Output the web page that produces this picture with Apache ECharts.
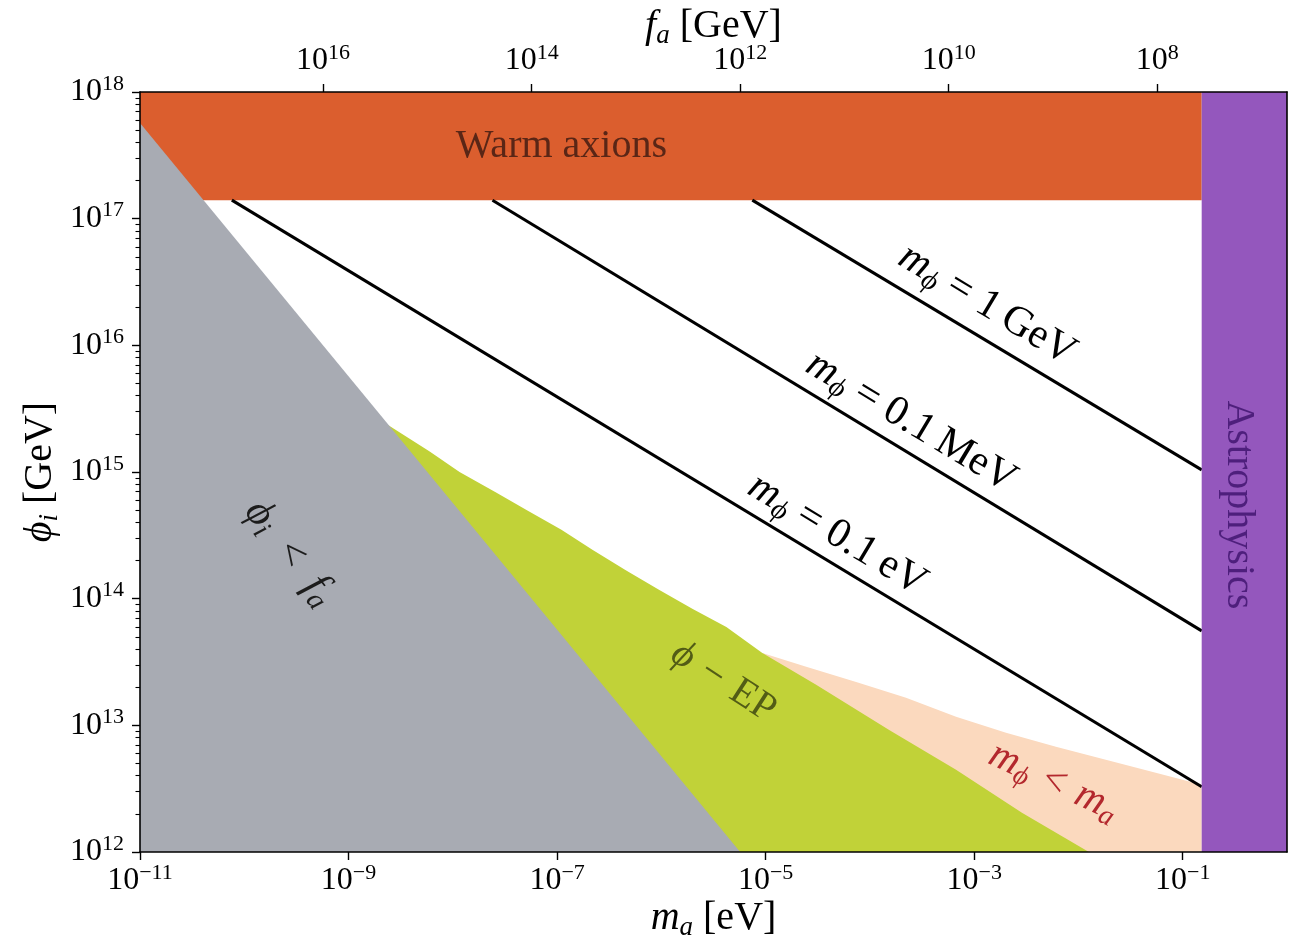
<!DOCTYPE html>
<html>
<head>
<meta charset="utf-8">
<script src="https://cdn.jsdelivr.net/npm/echarts@6/dist/echarts.min.js"></script>
<style>html,body{margin:0;padding:0;background:#fff}#c{width:1299px;height:948px}</style>
</head>
<body>
<div id="c"></div>
<script>
// ---------------- data ----------------
const FA_CONST = 5.7e6;                 // m_a * f_a  [eV * GeV]
const xRange = [1e-11, 1];              // m_a [eV]
const yRange = [1e12, 1e18];            // phi_i [GeV]
const xTicks = [1e-11, 1e-9, 1e-7, 1e-5, 1e-3, 1e-1];
const yTicks = [1e12, 1e13, 1e14, 1e15, 1e16, 1e17, 1e18];
const faTicks = [1e16, 1e14, 1e12, 1e10, 1e8];
const yMinorTicks = [];
for (let d = 12; d < 18; d++) for (let k = 2; k <= 9; k++) yMinorTicks.push(k * Math.pow(10, d));

// Warm axions band
const warmMa = [1e-11, 0.152];
const warmPhi = [1.4e17, 1e18];
// Astrophysics band
const astroMa = [0.152, 1];
const astroPhi = [1e12, 1e18];
// phi_i < f_a region
const grayMa = [1e-11, 1e-11, 5.7e-6];
const grayPhi = [5.7e17, 1e12, 1e12];
// phi - EP region (upper edge, then bottom corners)
const epMa  = [2.37e-9, 6.0e-9, 1.16e-8, 2.6e-8, 5.09e-8, 1.1e-7, 2.18e-7, 4.6e-7, 9.57e-7, 2.0e-6, 4.2e-6, 9.3e-6, 3.05e-5, 1.53e-4, 6.7e-4, 2.87e-3, 1.26e-2, 2.37e-9];
const epPhi = [2.36e15, 1.45e15, 1.0e15, 6.9e14, 5.02e14, 3.5e14, 2.43e14, 1.67e14, 1.17e14, 8.3e13, 5.98e13, 3.73e13, 2.09e13, 9.2e12, 4.46e12, 2.04e12, 1.0e12, 1.0e12];
// m_phi < m_a region (upper edge, then bottom corners)
const peachMa  = [9.3e-6, 2.45e-5, 7.38e-5, 2.22e-4, 6.7e-4, 2.02e-3, 6.08e-3, 1.83e-2, 5.51e-2, 0.152, 0.152, 9.3e-6];
const peachPhi = [3.73e13, 2.9e13, 2.2e13, 1.65e13, 1.17e13, 8.73e12, 6.76e12, 5.35e12, 4.22e12, 3.39e12, 1e12, 1e12];
// m_phi contour lines
const lineNames = ['1\u2009GeV', '0.1\u2009MeV', '0.1\u2009eV'];
const lineMa  = [[7.45e-6, 0.152], [2.4e-8, 0.152], [7.6e-11, 0.152]];
const linePhi = [[1.4e17, 1.04e15], [1.4e17, 5.57e13], [1.4e17, 3.27e12]];

// ---------------- styling ----------------
const FONT = "'Liberation Serif','DejaVu Serif',serif";
const C_ORANGE = '#db5e2e', C_PURPLE = '#9457bd', C_GRAY = '#a8abb3', C_GREEN = '#c1d238', C_PEACH = '#fbd9be';

// keep ticks that sit exactly on the axis end inside the (floating point) extent
function inside(vals, range) {
  return vals.map(v => v >= range[1] ? v * (1 - 1e-9) : (v <= range[0] ? v * (1 + 1e-9) : v));
}

function expLabel(v) {
  const e = Math.round(Math.log10(v));
  return '{b|10}{s|' + String(e).replace('-', '\u2212') + '}';
}
const tickRich = {
  b: {fontFamily: FONT, fontSize: 32, lineHeight: 38, verticalAlign: 'middle', color: '#000'},
  s: {fontFamily: FONT, fontSize: 22, lineHeight: 22, verticalAlign: 'top', color: '#000'}
};
const nameRich = {
  i: {fontFamily: FONT, fontStyle: 'italic', fontSize: 40, lineHeight: 46, verticalAlign: 'middle', color: '#000'},
  s: {fontFamily: FONT, fontStyle: 'italic', fontSize: 27, lineHeight: 20, verticalAlign: 'bottom', color: '#000'},
  n: {fontFamily: FONT, fontSize: 40, lineHeight: 46, verticalAlign: 'middle', color: '#000'}
};

function polySeries(ma, phi, color, z) {
  return {
    type: 'custom', coordinateSystem: 'cartesian2d', xAxisIndex: 0, yAxisIndex: 0,
    z: z, silent: true, animation: false,
    data: ma.map((m, i) => [m, phi[i]]),
    encode: {x: 0, y: 1},
    renderItem: function (params, api) {
      if (params.dataIndex !== 0) return null;
      const pts = ma.map((m, i) => api.coord([m, phi[i]]));
      return {type: 'polygon', shape: {points: pts}, style: {fill: color}};
    }
  };
}
function rectSeries(ma, phi, color, z) {
  return polySeries([ma[0], ma[1], ma[1], ma[0]], [phi[0], phi[0], phi[1], phi[1]], color, z);
}

// annotation texts (placed in data coordinates)
function mRich(fill, size) {
  return {
    i: {fontFamily: FONT, fontStyle: 'italic', fontSize: size, lineHeight: size + 6, verticalAlign: 'middle', fill: fill},
    s: {fontFamily: FONT, fontStyle: 'italic', fontSize: Math.round(size * 0.68), lineHeight: 20, verticalAlign: 'bottom', fill: fill},
    n: {fontFamily: FONT, fontSize: size, lineHeight: size + 6, verticalAlign: 'middle', fill: fill}
  };
}
const SP = '\u2004';
const annotations = [
  {pos: [1.10e-7, 3.68e17], rot: 0, text: '{n|Warm axions}', fill: '#5a2616', size: 40},
  {pos: [0.344, 5.5e14], rot: -90, text: '{n|Astrophysics}', fill: '#4e1f7c', size: 40},
  {pos: [1.33e-3, 2.08e16], rot: -31, text: '{i|m}{s|\u03d5}{n| = 1\u2009GeV}', fill: '#000', size: 42},
  {pos: [2.48e-4, 2.48e15], rot: -31, text: '{i|m}{s|\u03d5}{n| = 0.1\u2009MeV}', fill: '#000', size: 42},
  {pos: [4.85e-5, 3.19e14], rot: -31, text: '{i|m}{s|\u03d5}{n| = 0.1\u2009eV}', fill: '#000', size: 42},
  {pos: [2.74e-10, 2.3e14], rot: -52, text: '{i|\u03d5}{s|i}{n|\u2002<\u2002}{i|f}{s|a}', fill: '#1c1c1c', size: 42},
  {pos: [3.93e-6, 2.2e13], rot: -33, text: '{i|\u03d5}{n|' + SP + '\u2212' + SP + 'EP}', fill: '#525c16', size: 40},
  {pos: [5.8e-3, 3.58e12], rot: -25, text: '{i|m}{s|\u03d5}{n|' + SP + '<' + SP + '}{i|m}{s|a}', fill: '#b3282d', size: 41}
];

const series = [
  rectSeries(warmMa, warmPhi, C_ORANGE, 2),
  polySeries(peachMa, peachPhi, C_PEACH, 3),
  polySeries(epMa, epPhi, C_GREEN, 4),
  polySeries(grayMa, grayPhi, C_GRAY, 5)
];
lineNames.forEach((nm, k) => {
  series.push({
    type: 'line', name: nm, xAxisIndex: 0, yAxisIndex: 0, z: 6, silent: true, animation: false,
    showSymbol: false, symbol: 'none',
    data: lineMa[k].map((m, i) => [m, linePhi[k][i]]),
    lineStyle: {color: '#000', width: 3}
  });
});
series.push(rectSeries(astroMa, astroPhi, C_PURPLE, 7));
series.push({
  type: 'custom', coordinateSystem: 'cartesian2d', xAxisIndex: 0, yAxisIndex: 0, z: 8,
  silent: true, animation: false,
  data: annotations.map(a => a.pos),
  encode: {x: 0, y: 1},
  renderItem: function (params, api) {
    const a = annotations[params.dataIndex];
    const p = api.coord(a.pos);
    return {
      type: 'text', x: p[0], y: p[1], rotation: a.rot * Math.PI / 180,
      style: {text: a.text, rich: mRich(a.fill, a.size), align: 'center', verticalAlign: 'middle', fill: a.fill}
    };
  }
});

const xTickVals = inside(xTicks, xRange);
const yTickVals = inside(yTicks, yRange);
const faRange = [FA_CONST / xRange[1], FA_CONST / xRange[0]];
const faTickVals = inside(faTicks, faRange);

const axisLineStyle = {color: '#000', width: 1.6};
const option = {
  animation: false,
  backgroundColor: '#fff',
  grid: {left: 140, right: 12, top: 92, bottom: 96, containLabel: false, outerBoundsMode: 'none'},
  xAxis: [
    {
      type: 'log', logBase: 10, min: xRange[0], max: xRange[1], position: 'bottom', z: 10,
      axisLine: {show: true, onZero: false, lineStyle: axisLineStyle},
      axisTick: {show: true, length: 8, inside: false, lineStyle: {color: '#000', width: 1.4}, customValues: xTickVals},
      axisLabel: {show: true, margin: 10, formatter: expLabel, rich: tickRich, customValues: xTickVals, showMinLabel: true, showMaxLabel: true, hideOverlap: false},
      splitLine: {show: false}, minorTick: {show: false},
      name: '{i|m}{s|a}{n| [eV]}', nameLocation: 'middle', nameGap: 43, nameMoveOverlap: false,
      nameTextStyle: {rich: nameRich, verticalAlign: 'top'}
    },
    {
      type: 'log', logBase: 10, min: faRange[0], max: faRange[1], inverse: true,
      position: 'top', z: 10,
      axisLine: {show: true, onZero: false, lineStyle: axisLineStyle},
      axisTick: {show: true, length: 8, inside: false, lineStyle: {color: '#000', width: 1.4}, customValues: faTickVals},
      axisLabel: {show: true, margin: 12, formatter: expLabel, rich: tickRich, customValues: faTickVals, showMinLabel: true, showMaxLabel: true, hideOverlap: false},
      splitLine: {show: false}, minorTick: {show: false},
      name: '{i|f}{s|a}{n| [GeV]}', nameLocation: 'middle', nameGap: 43, nameMoveOverlap: false,
      nameTextStyle: {rich: nameRich, verticalAlign: 'bottom'}
    }
  ],
  yAxis: [
    {
      type: 'log', logBase: 10, min: yRange[0], max: yRange[1], position: 'left', z: 10,
      axisLine: {show: true, onZero: false, lineStyle: axisLineStyle},
      axisTick: {show: true, length: 8, inside: false, lineStyle: {color: '#000', width: 1.4}, customValues: yTickVals},
      axisLabel: {show: true, margin: 16, formatter: expLabel, rich: tickRich, customValues: yTickVals, showMinLabel: true, showMaxLabel: true, hideOverlap: false},
      splitLine: {show: false}, minorTick: {show: false},
      name: '{i|\u03d5}{s|i}{n| [GeV]}', nameLocation: 'middle', nameGap: 77, nameMoveOverlap: false,
      nameTextStyle: {rich: nameRich}
    },
    {
      type: 'log', logBase: 10, min: yRange[0], max: yRange[1], position: 'left', z: 10,
      axisLine: {show: false},
      axisTick: {show: true, length: 4.5, inside: false, lineStyle: {color: '#000', width: 1.1}, customValues: yMinorTicks},
      axisLabel: {show: false},
      splitLine: {show: false}
    },
    {
      type: 'log', logBase: 10, min: yRange[0], max: yRange[1], position: 'right', z: 10,
      axisLine: {show: true, onZero: false, lineStyle: axisLineStyle},
      axisTick: {show: false}, axisLabel: {show: false}, splitLine: {show: false}
    }
  ],
  series: series
};

const chart = echarts.init(document.getElementById('c'), null, {renderer: 'canvas'});
chart.setOption(option);
</script>
</body>
</html>
